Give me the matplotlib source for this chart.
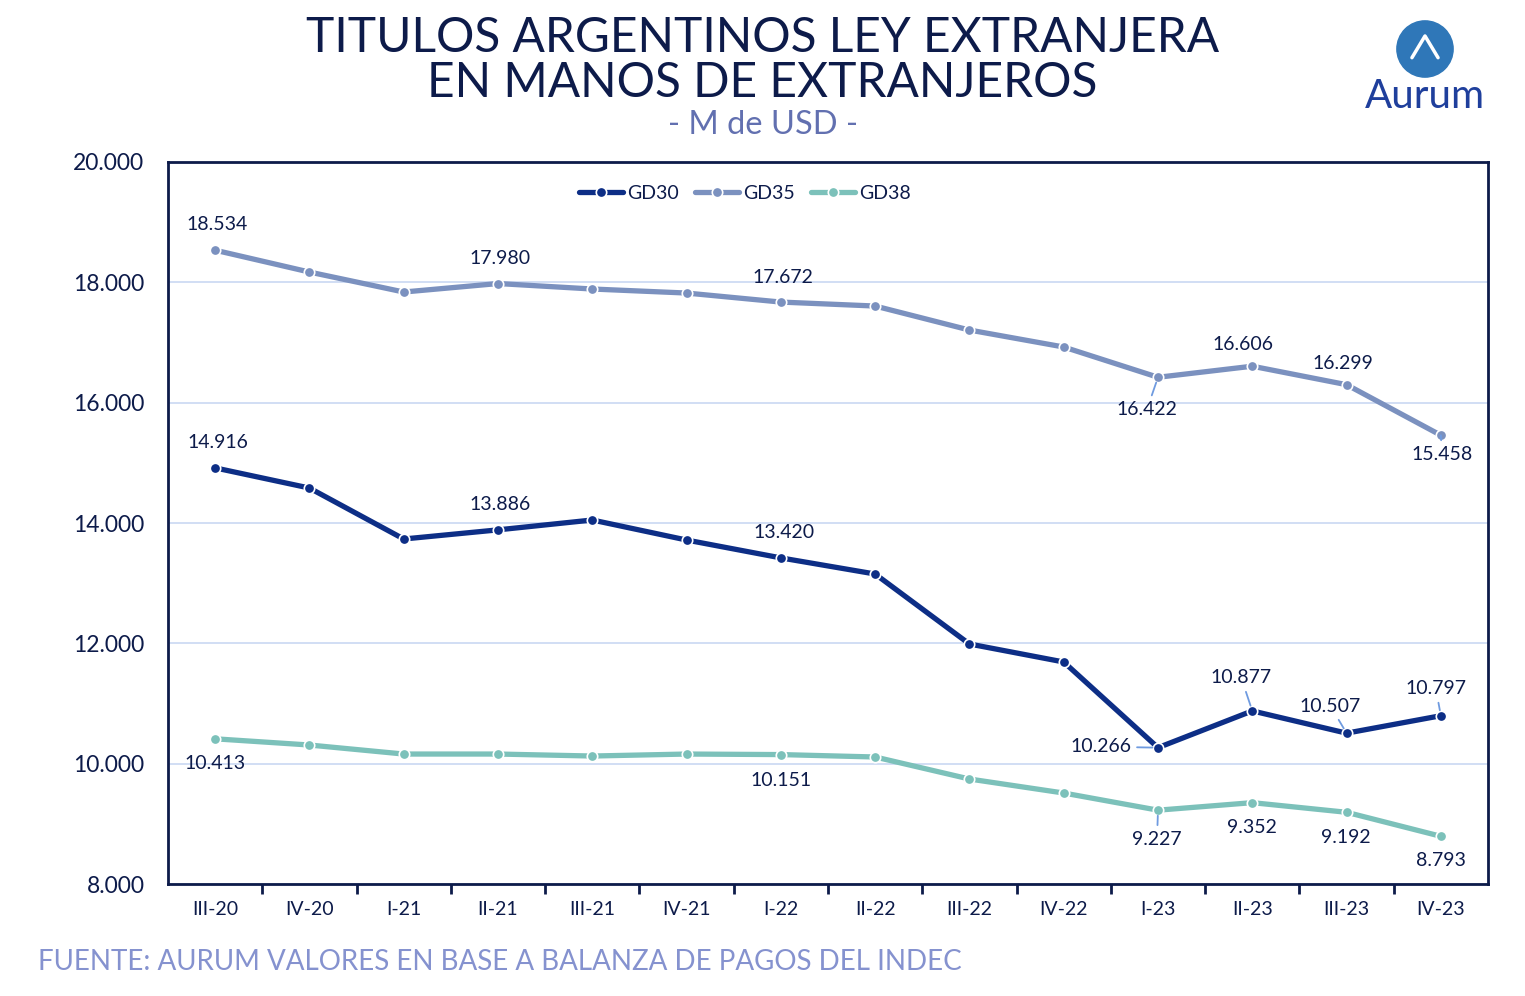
import numpy as np
import matplotlib
matplotlib.use("Agg")
import matplotlib.pyplot as plt
from matplotlib.ticker import FuncFormatter, FixedLocator

plt.rcParams["font.family"] = ["Lato", "DejaVu Sans"]

# data (M de USD)
quarters = ["III-20", "IV-20", "I-21", "II-21", "III-21", "IV-21", "I-22",
            "II-22", "III-22", "IV-22", "I-23", "II-23", "III-23", "IV-23"]
gd30 = [14916, 14581, 13734, 13886, 14050, 13717, 13420,
        13152, 11989, 11690, 10266, 10877, 10507, 10797]
gd35 = [18534, 18171, 17839, 17980, 17889, 17822, 17672,
        17606, 17207, 16925, 16422, 16606, 16299, 15458]
gd38 = [10413, 10310, 10160, 10160, 10127, 10160, 10151,
        10111, 9745, 9512, 9227, 9352, 9192, 8793]

C30 = "#0d2e86"
C35 = "#7b91bf"
C38 = "#7cc1ba"
NAVY = "#0d1b4a"
LEAD = "#6f9be0"

fig = plt.figure(figsize=(15.25, 9.96), dpi=100)
ax = fig.add_axes([168 / 1525, 1 - 884 / 996, 1320 / 1525, 722 / 996])

x = np.arange(len(quarters))
for vals, col, name in [(gd30, C30, "GD30"), (gd35, C35, "GD35"), (gd38, C38, "GD38")]:
    ax.plot(x, vals, color=col, lw=3.8, marker="o", ms=7.5, mfc=col,
            mec="white", mew=1.2, label=name, solid_capstyle="round", zorder=3)

ax.set_xlim(-0.5, len(quarters) - 0.5)
ax.set_ylim(8000, 20000)
ax.set_yticks(np.arange(8000, 20001, 2000))
ax.yaxis.set_major_formatter(FuncFormatter(lambda v, p: f"{int(v):,}".replace(",", ".")))
ax.set_xticks(x)
ax.set_xticklabels(quarters)
ax.xaxis.set_minor_locator(FixedLocator(np.arange(0.5, len(quarters) - 1, 1)))
ax.tick_params(axis="x", which="major", length=0, labelsize=14, colors=NAVY, pad=12)
ax.tick_params(axis="x", which="minor", length=7, width=2, color=NAVY, direction="out")
ax.tick_params(axis="y", length=0, labelsize=16.5, colors=NAVY, pad=17)
ax.grid(axis="y", color="#c9d8f2", lw=1.2)
ax.set_axisbelow(True)
for s in ax.spines.values():
    s.set_color(NAVY)
    s.set_linewidth(2)

# data labels: (series, index, dx px, dy px, leader)
labels = [
    (gd35, 0, 2, 26, False), (gd35, 3, 2, 25, False), (gd35, 6, 2, 25, False),
    (gd35, 10, -11, -32, True), (gd35, 11, -9, 22, False), (gd35, 12, -4, 21, False),
    (gd35, 13, 1, -19, True),
    (gd30, 0, 3, 25, False), (gd30, 3, 2, 25, False), (gd30, 6, 3, 25, False),
    (gd30, 10, -57, 1, True), (gd30, 11, -11, 33, True), (gd30, 12, -16, 27, True),
    (gd30, 13, -5, 27, True),
    (gd38, 0, 0, -25, False), (gd38, 6, 0, -26, False), (gd38, 10, -1, -29, True),
    (gd38, 11, 0, -25, False), (gd38, 12, -1, -25, False), (gd38, 13, 0, -24, False),
]
for vals, i, dx, dy, lead in labels:
    txt = f"{vals[i]:,}".replace(",", ".")
    ap = dict(arrowstyle="-", color=LEAD, lw=1.3, shrinkA=2, shrinkB=4) if lead else None
    ax.annotate(txt, xy=(i, vals[i]), xytext=(dx, dy), textcoords="offset pixels",
                ha="center", va="center", fontsize=14, color=NAVY,
                arrowprops=ap, zorder=4)

leg = ax.legend(loc="upper center", bbox_to_anchor=(0.437, 0.992), ncol=3, frameon=False,
                fontsize=14, handlelength=2.3, handletextpad=0.2, columnspacing=0.8)
for t in leg.get_texts():
    t.set_color(NAVY)

# titles
fig.text(0.5, 1 - 38 / 996, "TITULOS ARGENTINOS LEY EXTRANJERA", ha="center", va="center",
         fontsize=34.5, color=NAVY)
fig.text(0.5, 1 - 83 / 996, "EN MANOS DE EXTRANJEROS", ha="center", va="center",
         fontsize=34.5, color=NAVY)
fig.text(0.5, 1 - 125 / 996, "- M de USD -", ha="center", va="center",
         fontsize=23.5, color="#6270b0")
fig.text(38 / 1525, 1 - 962 / 996, "FUENTE: AURUM VALORES EN BASE A BALANZA DE PAGOS DEL INDEC",
         ha="left", va="center", fontsize=20, color="#8592cf")

# logo
lax = fig.add_axes([1395 / 1525, 1 - 78 / 996, 60 / 1525, 58 / 996])
lax.set_xlim(-1, 1)
lax.set_ylim(-1, 1)
lax.set_aspect("equal")
lax.axis("off")
lax.add_patch(plt.Circle((0, 0), 0.97, color="#2f77b8"))
lax.plot([-0.45, 0.0, 0.45], [-0.3, 0.45, -0.3], color="white", lw=2.5, solid_capstyle="round")
fig.text(1425 / 1525, 1 - 96 / 996, "Aurum", ha="center", va="center", fontsize=29,
         color="#1f3f9c")

fig.savefig("out.png", dpi=100)
